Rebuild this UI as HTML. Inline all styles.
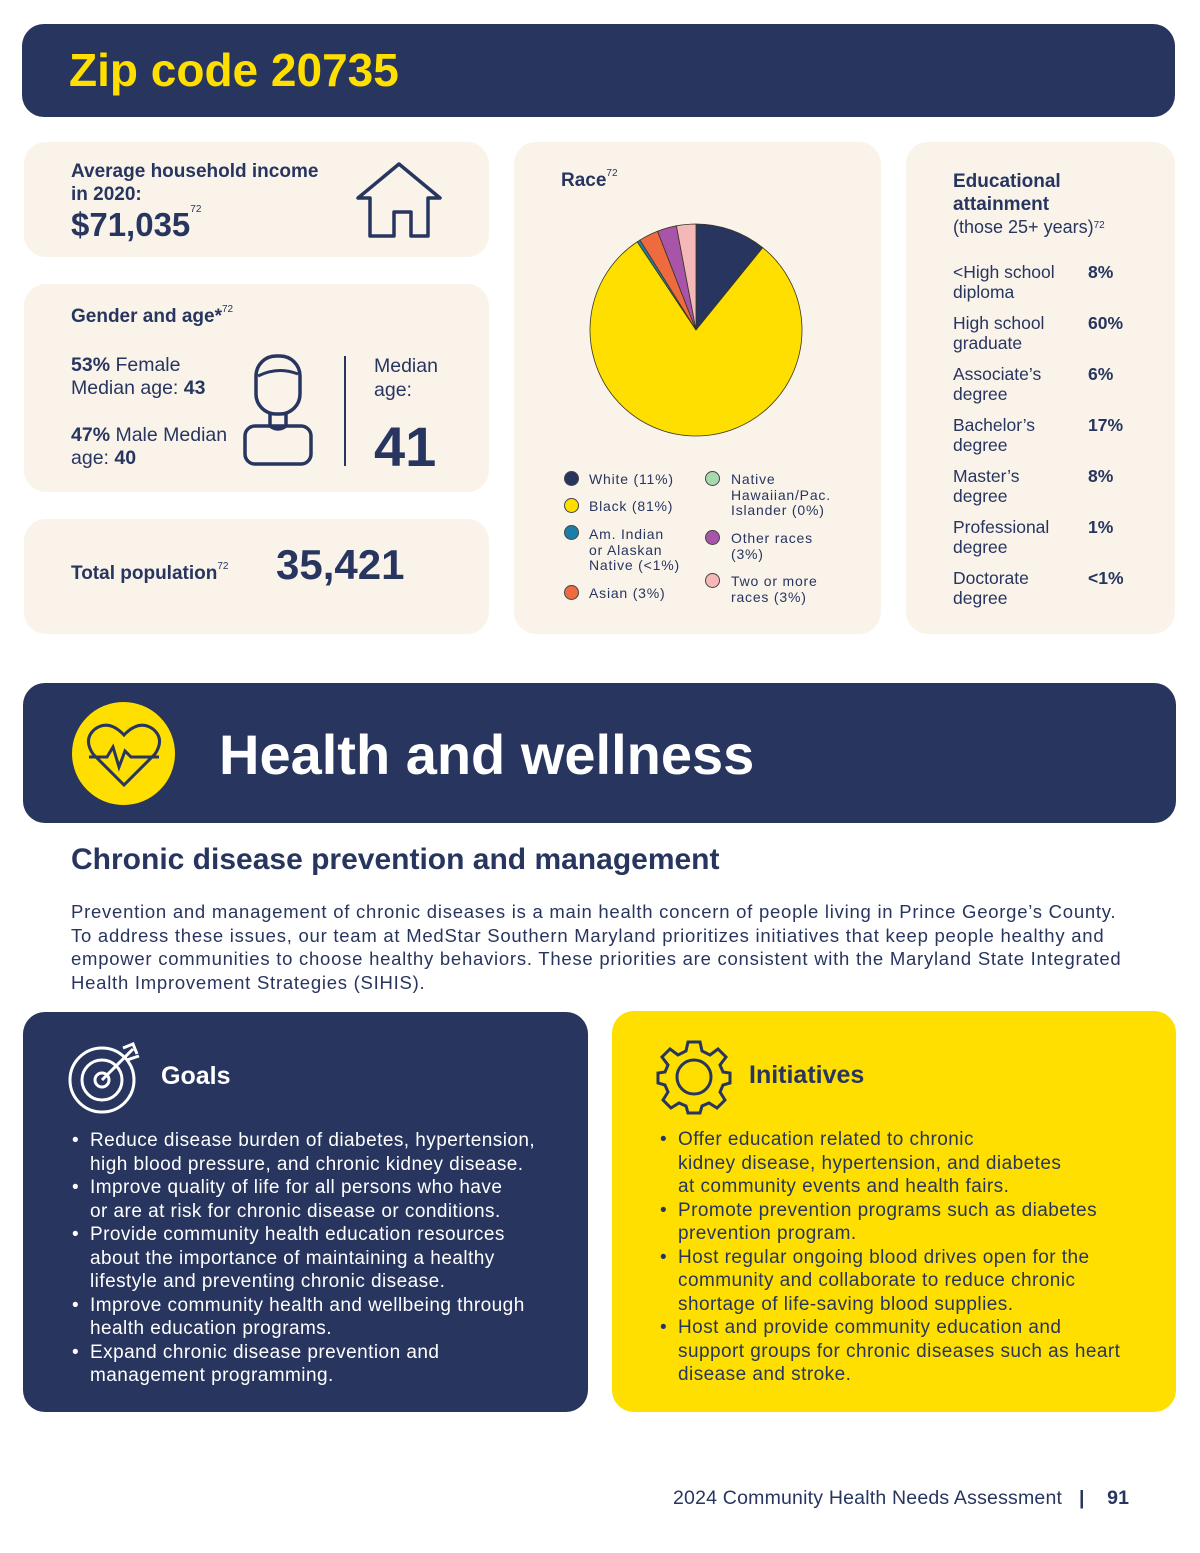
<!DOCTYPE html>
<html><head><meta charset="utf-8">
<style>
*{margin:0;padding:0;box-sizing:border-box}
body{width:1200px;height:1553px;background:#fff;font-family:"Liberation Sans",sans-serif;color:#27355f;position:relative;overflow:hidden}
.abs{position:absolute;white-space:nowrap}
.card{position:absolute;background:#f9f3ea;border-radius:22px}
.b{font-weight:bold}
sup{font-size:10px;font-weight:normal;vertical-align:top;position:relative;top:-2px}
.leg{position:absolute;font-size:14px;line-height:15.5px;letter-spacing:0.8px;white-space:nowrap}
.dot{position:absolute;width:15px;height:15px;border-radius:50%;border:1px solid #444}
.edu{position:absolute;font-size:17.5px;line-height:20px;white-space:nowrap}
ul{list-style:none}
li{position:relative;padding-left:20px}
li:before{content:"•";position:absolute;left:2px}
</style></head><body>
<div class="abs" style="left:22px;top:24px;width:1153px;height:93px;background:#27355f;border-radius:22px">
<div class="abs b" style="left:47px;top:19px;font-size:46px;color:#ffdf00">Zip code 20735</div></div>

<div class="card" style="left:24px;top:142px;width:465px;height:115px">
<div class="abs b" style="left:47px;top:18px;font-size:19px;line-height:23px">Average household income<br>in 2020:</div>
<div class="abs b" style="left:47px;top:64px;font-size:33px">$71,035<sup>72</sup></div>
<svg class="abs" style="left:330px;top:18px" width="90" height="80"><path d="M45 4 L86 38 L74 38 L74 76 L57 76 L57 52 L40 52 L40 76 L16 76 L16 38 L4 38 Z" fill="none" stroke="#27355f" stroke-width="3.5" stroke-linejoin="round"/></svg>
</div>

<div class="card" style="left:24px;top:284px;width:465px;height:208px">
<div class="abs b" style="left:47px;top:22px;font-size:19px">Gender and age*<sup>72</sup></div>
<div class="abs" style="left:47px;top:70px;font-size:19.5px;line-height:23px"><b>53%</b> Female<br>Median age: <b>43</b></div>
<div class="abs" style="left:47px;top:140px;font-size:19.5px;line-height:23px"><b>47%</b> Male Median<br>age: <b>40</b></div>
<svg class="abs" style="left:218px;top:70px" width="72" height="112"><rect x="14" y="2" width="44" height="58" rx="20" fill="none" stroke="#27355f" stroke-width="3.5"/><path d="M16 22 Q36 12 56 20" fill="none" stroke="#27355f" stroke-width="3"/><path d="M28 60 L28 72 Q36 78 44 72 L44 60" fill="none" stroke="#27355f" stroke-width="3.5"/><rect x="3" y="72" width="66" height="38" rx="10" fill="none" stroke="#27355f" stroke-width="3.5"/></svg>
<div class="abs" style="left:320px;top:72px;width:2px;height:110px;background:#27355f"></div>
<div class="abs" style="left:350px;top:70px;font-size:19.5px;line-height:24px">Median<br>age:</div>
<div class="abs b" style="left:350px;top:130px;font-size:56px">41</div>
</div>

<div class="card" style="left:24px;top:519px;width:465px;height:115px">
<div class="abs b" style="left:47px;top:44px;font-size:19px">Total population<sup>72</sup></div>
<div class="abs b" style="left:252px;top:22px;font-size:42px">35,421</div>
</div>

<div class="card" style="left:514px;top:142px;width:367px;height:492px">
<div class="abs b" style="left:47px;top:28px;font-size:19px">Race<sup>72</sup></div>
</div>
<svg class="abs" id="pie" style="left:0;top:0" width="1200" height="460"></svg>
<div class="abs" style="left:0;top:0">
<div class="dot" style="left:564px;top:471px;background:#27355f"></div><div class="leg" style="left:589px;top:472px">White (11%)</div>
<div class="dot" style="left:564px;top:498px;background:#ffdf00"></div><div class="leg" style="left:589px;top:499px">Black (81%)</div>
<div class="dot" style="left:564px;top:525px;background:#1a7fa8"></div><div class="leg" style="left:589px;top:527px">Am. Indian<br>or Alaskan<br>Native (&lt;1%)</div>
<div class="dot" style="left:564px;top:585px;background:#ee6a3f"></div><div class="leg" style="left:589px;top:586px">Asian (3%)</div>
<div class="dot" style="left:705px;top:471px;background:#a8d8b0"></div><div class="leg" style="left:731px;top:472px">Native<br>Hawaiian/Pac.<br>Islander (0%)</div>
<div class="dot" style="left:705px;top:530px;background:#a854a8"></div><div class="leg" style="left:731px;top:531px">Other races<br>(3%)</div>
<div class="dot" style="left:705px;top:573px;background:#f5b8b8"></div><div class="leg" style="left:731px;top:574px">Two or more<br>races (3%)</div>
</div>

<div class="card" style="left:906px;top:142px;width:269px;height:492px">
<div class="abs" style="left:47px;top:28px;font-size:19px;line-height:23px"><b>Educational<br>attainment</b><br><span style="font-size:18px">(those 25+ years)<sup>72</sup></span></div>
</div>
<div>
<div class="edu" style="left:953px;top:262px">&lt;High school<br>diploma</div><div class="edu b" style="left:1088px;top:262px">8%</div>
<div class="edu" style="left:953px;top:313px">High school<br>graduate</div><div class="edu b" style="left:1088px;top:313px">60%</div>
<div class="edu" style="left:953px;top:364px">Associate’s<br>degree</div><div class="edu b" style="left:1088px;top:364px">6%</div>
<div class="edu" style="left:953px;top:415px">Bachelor’s<br>degree</div><div class="edu b" style="left:1088px;top:415px">17%</div>
<div class="edu" style="left:953px;top:466px">Master’s<br>degree</div><div class="edu b" style="left:1088px;top:466px">8%</div>
<div class="edu" style="left:953px;top:517px">Professional<br>degree</div><div class="edu b" style="left:1088px;top:517px">1%</div>
<div class="edu" style="left:953px;top:568px">Doctorate<br>degree</div><div class="edu b" style="left:1088px;top:568px">&lt;1%</div>
</div>

<div class="abs" style="left:23px;top:683px;width:1153px;height:140px;background:#27355f;border-radius:22px">
<div class="abs" style="left:49px;top:19px;width:103px;height:103px;border-radius:50%;background:#ffdf00"></div>
<svg class="abs" style="left:62px;top:38px" width="78" height="70"><path d="M39 64 L8 33 Q-2 18 10 8 Q24 -2 39 14 Q54 -2 68 8 Q80 18 70 33 Z" fill="none" stroke="#27355f" stroke-width="3"/><path d="M4 36 L22 36 L28 26 L34 46 L40 30 L46 36 L74 36" fill="none" stroke="#27355f" stroke-width="3"/></svg>
<div class="abs b" style="left:196px;top:39px;font-size:56px;color:#fff">Health and wellness</div>
</div>

<div class="abs b" style="left:71px;top:843px;font-size:30px">Chronic disease prevention and management</div>
<div class="abs" style="left:71px;top:900px;font-size:18.5px;line-height:23.5px;letter-spacing:0.75px">Prevention and management of chronic diseases is a main health concern of people living in Prince George’s County.<br>To address these issues, our team at MedStar Southern Maryland prioritizes initiatives that keep people healthy and<br>empower communities to choose healthy behaviors. These priorities are consistent with the Maryland State Integrated<br>Health Improvement Strategies (SIHIS).</div>

<div class="abs" style="left:23px;top:1012px;width:565px;height:400px;background:#27355f;border-radius:22px;color:#fff">
<svg class="abs" style="left:44px;top:28px" width="76" height="76"><circle cx="35" cy="40" r="32" fill="none" stroke="#fff" stroke-width="3"/><circle cx="35" cy="40" r="20" fill="none" stroke="#fff" stroke-width="3"/><circle cx="35" cy="40" r="7" fill="none" stroke="#fff" stroke-width="3"/><path d="M35 40 L66 9 M56 8 L66 4 L70 14 M60 20 L72 16" fill="none" stroke="#fff" stroke-width="3"/></svg>
<div class="abs b" style="left:138px;top:50px;font-size:25px">Goals</div>
<ul class="abs" style="left:47px;top:117px;font-size:19px;line-height:23.5px;letter-spacing:0.45px">
<li>Reduce disease burden of diabetes, hypertension,<br>high blood pressure, and chronic kidney disease.</li>
<li>Improve quality of life for all persons who have<br>or are at risk for chronic disease or conditions.</li>
<li>Provide community health education resources<br>about the importance of maintaining a healthy<br>lifestyle and preventing chronic disease.</li>
<li>Improve community health and wellbeing through<br>health education programs.</li>
<li>Expand chronic disease prevention and<br>management programming.</li></ul>
</div>

<div class="abs" style="left:612px;top:1011px;width:564px;height:401px;background:#ffdf00;border-radius:22px">
<svg class="abs" style="left:44px;top:28px" width="76" height="76"><g transform="translate(38,38)" fill="none" stroke="#27355f" stroke-width="3"><circle r="17"/><path d="M-6 -35 L6 -35 L8 -26 L16 -22 L24 -28 L32 -20 L26 -12 L29 -5 L36 -4 L36 6 L29 8 L26 15 L31 23 L23 31 L15 26 L8 29 L6 36 L-6 36 L-8 29 L-15 26 L-23 31 L-31 23 L-26 15 L-29 8 L-36 6 L-36 -4 L-29 -5 L-26 -12 L-32 -20 L-24 -28 L-16 -22 L-8 -26 Z"/></g></svg>
<div class="abs b" style="left:137px;top:50px;font-size:25px">Initiatives</div>
<ul class="abs" style="left:46px;top:117px;font-size:19px;line-height:23.5px;letter-spacing:0.45px">
<li>Offer education related to chronic<br>kidney disease, hypertension, and diabetes<br>at community events and health fairs.</li>
<li>Promote prevention programs such as diabetes<br>prevention program.</li>
<li>Host regular ongoing blood drives open for the<br>community and collaborate to reduce chronic<br>shortage of life-saving blood supplies.</li>
<li>Host and provide community education and<br>support groups for chronic diseases such as heart<br>disease and stroke.</li></ul>
</div>

<div class="abs" style="left:673px;top:1487px;font-size:19.5px;letter-spacing:0.2px">2024 Community Health Needs Assessment &nbsp;&nbsp;<b>|</b>&nbsp;&nbsp;&nbsp; <b>91</b></div>

<script>
const raceCategories=["White","Black","Am. Indian or Alaskan Native","Asian","Other races","Two or more races","Native Hawaiian/Pac. Islander"];
const raceValues=[11,81,0.5,3,3,3,0];
const raceColors=["#27355f","#ffdf00","#1a7fa8","#ee6a3f","#a854a8","#f5b8b8","#a8d8b0"];
const svg=document.getElementById('pie');
const cx=696,cy=330,r=106;
const total=raceValues.reduce((a,b)=>a+b,0);
let a0=0;
raceValues.forEach((v,i)=>{
  if(v<=0)return;
  const a1=a0+v/total*Math.PI*2;
  const x0=cx+r*Math.sin(a0),y0=cy-r*Math.cos(a0),x1=cx+r*Math.sin(a1),y1=cy-r*Math.cos(a1);
  const p=document.createElementNS('http://www.w3.org/2000/svg','path');
  p.setAttribute('d',`M${cx} ${cy} L${x0} ${y0} A${r} ${r} 0 ${a1-a0>Math.PI?1:0} 1 ${x1} ${y1} Z`);
  p.setAttribute('fill',raceColors[i]);
  p.setAttribute('stroke','#3a3520');
  p.setAttribute('stroke-width','0.8');
  
  
  svg.appendChild(p);
  a0=a1;
});
</script>
</body></html>
